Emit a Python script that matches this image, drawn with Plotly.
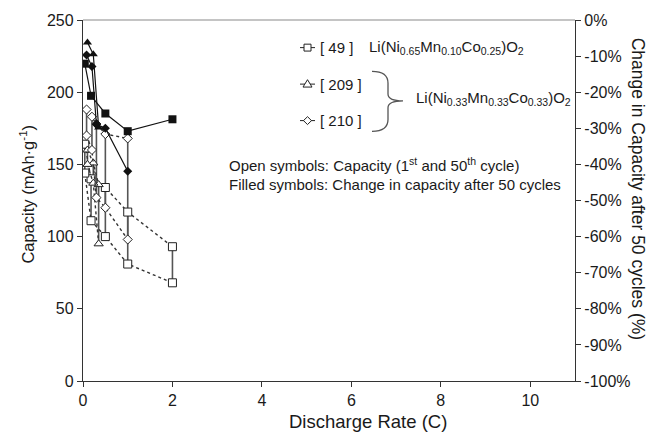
import plotly.graph_objects as go

# ---------------- data ----------------
rate_49 = [0.04, 0.18, 0.5, 1.0, 2.0]
cap1_49 = [164, 140, 134, 117, 93]
cap50_49 = [144, 111, 100, 81, 68]
chg_49 = [-12.1, -21.0, -25.9, -30.8, -27.5]

rate_209 = [0.1, 0.23, 0.35]
cap1_209 = [160, 151, 136]
cap50_209 = [150, 137, 95]
chg_209 = [-6.2, -9.5, -29.8]

rate_210 = [0.08, 0.2, 0.3, 0.5, 1.0]
cap1_210 = [188, 183, 178, 171, 168]
cap50_210 = [170, 160, 127, 120, 98]
chg_210 = [-9.7, -12.9, -28.9, -30.0, -41.9]

ref_labels = ["[ 49 ]", "[ 209 ]", "[ 210 ]"]

x_ticks = [0, 2, 4, 6, 8, 10]
y_ticks = [0, 50, 100, 150, 200, 250]
y2_ticks = [-100, -90, -80, -70, -60, -50, -40, -30, -20, -10, 0]
y2_labels = ["-100%", "-90%", "-80%", "-70%", "-60%", "-50%", "-40%",
             "-30%", "-20%", "-10%", "0%"]

# ---------------- geometry helpers ----------------
W, H = 661, 439
L, R, T, B = 83, 86, 15, 58
PW, PH = W - L - R, H - T - B


def px(x):
    return (x - L) / PW


def py(y):
    return (H - B - y) / PH


FONT = "Arial, Liberation Sans, sans-serif"
INK = "#1a1a1a"

series = [
    ("square", 8, rate_49, cap1_49, cap50_49, chg_49),
    ("triangle-up", 8, rate_209, cap1_209, cap50_209, chg_209),
    ("diamond", 7, rate_210, cap1_210, cap50_210, chg_210),
]

fig = go.Figure()

for sym, size, rates, c1, c50, chg in series:
    xs, ys = [], []
    for r, a, b in zip(rates, c1, c50):
        xs += [r, r, None]
        ys += [a, b, None]
    fig.add_trace(go.Scatter(x=xs, y=ys, mode="lines",
                             line=dict(color="#555555", width=1.6),
                             showlegend=False, hoverinfo="skip"))
for sym, size, rates, c1, c50, chg in series:
    for vals in (c1, c50):
        fig.add_trace(go.Scatter(
            x=rates, y=vals, mode="lines+markers",
            line=dict(color="#333333", width=1.4, dash="dot"),
            marker=dict(symbol=sym, size=size, color="white",
                        line=dict(color="#222222", width=1)),
            showlegend=False))
for sym, size, rates, c1, c50, chg in series:
    fig.add_trace(go.Scatter(
        x=rates, y=chg, yaxis="y2", mode="lines+markers",
        line=dict(color="#111111", width=1.2),
        marker=dict(symbol=sym, size=size, color="#111111"),
        showlegend=False))

annotations = [
    dict(x=px(367), y=py(43),
         text="Li(Ni<sub>0.65</sub>Mn<sub>0.10</sub>Co<sub>0.25</sub>)O<sub>2</sub>",
         xanchor="left", yanchor="middle", font=dict(size=15)),
    dict(x=px(414), y=py(95),
         text="Li(Ni<sub>0.33</sub>Mn<sub>0.33</sub>Co<sub>0.33</sub>)O<sub>2</sub>",
         xanchor="left", yanchor="middle", font=dict(size=15)),
    dict(x=px(227), y=py(161),
         text="Open symbols: Capacity (1<sup>st</sup> and 50<sup>th</sup> cycle)",
         xanchor="left", yanchor="middle", font=dict(size=15)),
    dict(x=px(227), y=py(182),
         text="Filled symbols: Change in capacity after 50 cycles",
         xanchor="left", yanchor="middle", font=dict(size=15)),
    dict(x=px(27), y=py(192), text="Capacity (mAh·g<sup>-1</sup>)",
         textangle=-90, xanchor="center", yanchor="middle", font=dict(size=16.5)),
    dict(x=px(638), y=py(186), text="Change in Capacity after 50 cycles (%)",
         textangle=90, xanchor="center", yanchor="middle", font=dict(size=17.5)),
    dict(x=px(368), y=py(422), text="Discharge Rate (C)",
         xanchor="center", yanchor="middle", font=dict(size=18.5)),
]

# hand-drawn legend keys (decoration)
key_rows = [43, 80, 117]
key_x0, key_x1 = 300, 315
kc = (key_x0 + key_x1) / 2
shapes = []
for lbl, yy, (sym, *_rest) in zip(ref_labels, key_rows, series):
    annotations.append(dict(x=px(318), y=py(yy), text=lbl, xanchor="left",
                            yanchor="middle", font=dict(size=15)))
    shapes.append(dict(type="line", xref="paper", yref="paper",
                       x0=px(key_x0), x1=px(key_x1), y0=py(yy), y1=py(yy),
                       line=dict(color="#222222", width=1)))
    if sym == "square":
        shapes.append(dict(type="rect", xref="paper", yref="paper",
                           x0=px(kc - 3.5), x1=px(kc + 3.5),
                           y0=py(yy - 3.5), y1=py(yy + 3.5),
                           fillcolor="white", line=dict(color="#222222", width=1)))
    elif sym == "triangle-up":
        path = (f"M {px(kc)},{py(yy - 4.5)} L {px(kc + 4.5)},{py(yy + 3)} "
                f"L {px(kc - 4.5)},{py(yy + 3)} Z")
        shapes.append(dict(type="path", path=path, xref="paper", yref="paper",
                           fillcolor="white", line=dict(color="#222222", width=1)))
    else:
        path = (f"M {px(kc)},{py(yy - 4)} L {px(kc + 4)},{py(yy)} "
                f"L {px(kc)},{py(yy + 4)} L {px(kc - 4)},{py(yy)} Z")
        shapes.append(dict(type="path", path=path, xref="paper", yref="paper",
                           fillcolor="white", line=dict(color="#222222", width=1)))

for a in annotations:
    a.update(xref="paper", yref="paper", showarrow=False)
    a["font"].update(family=FONT, color=INK)

# curly brace
bx0, bx1, btip = 372, 388, 403
by0, bym, by1 = 67, 97, 128
pts = [
    f"M {px(bx0)},{py(by0)}",
    f"Q {px(bx1)},{py(by0)} {px(bx1)},{py(by0 + 12)}",
    f"L {px(bx1)},{py(bym - 7)}",
    f"Q {px(bx1)},{py(bym)} {px(btip)},{py(bym)}",
    f"Q {px(bx1)},{py(bym)} {px(bx1)},{py(bym + 7)}",
    f"L {px(bx1)},{py(by1 - 12)}",
    f"Q {px(bx1)},{py(by1)} {px(bx0)},{py(by1)}",
]
shapes += [
    dict(type="path", path=" ".join(pts), xref="paper", yref="paper",
         line=dict(color="#555555", width=1.3)),
    dict(type="line", xref="paper", yref="paper", x0=0, x1=1, y0=1, y1=1,
         line=dict(color="#b0b0b0", width=1.5)),
]

axis_common = dict(showgrid=False, zeroline=False, showline=True,
                   linecolor="#333333", linewidth=1.3, ticks="outside",
                   ticklen=5, tickcolor="#333333",
                   tickfont=dict(family=FONT, size=16, color=INK))

fig.update_layout(
    width=W, height=H,
    margin=dict(l=L, r=R, t=T, b=B, pad=0),
    paper_bgcolor="white", plot_bgcolor="white",
    showlegend=False,
    xaxis=dict(range=[0, 11], tickvals=x_ticks, **axis_common),
    yaxis=dict(range=[0, 250], tickvals=y_ticks, **axis_common),
    yaxis2=dict(range=[-100, 0], tickvals=y2_ticks, ticktext=y2_labels,
                overlaying="y", side="right", **axis_common),
    annotations=annotations,
    shapes=shapes,
)

fig.write_html("out.html")
